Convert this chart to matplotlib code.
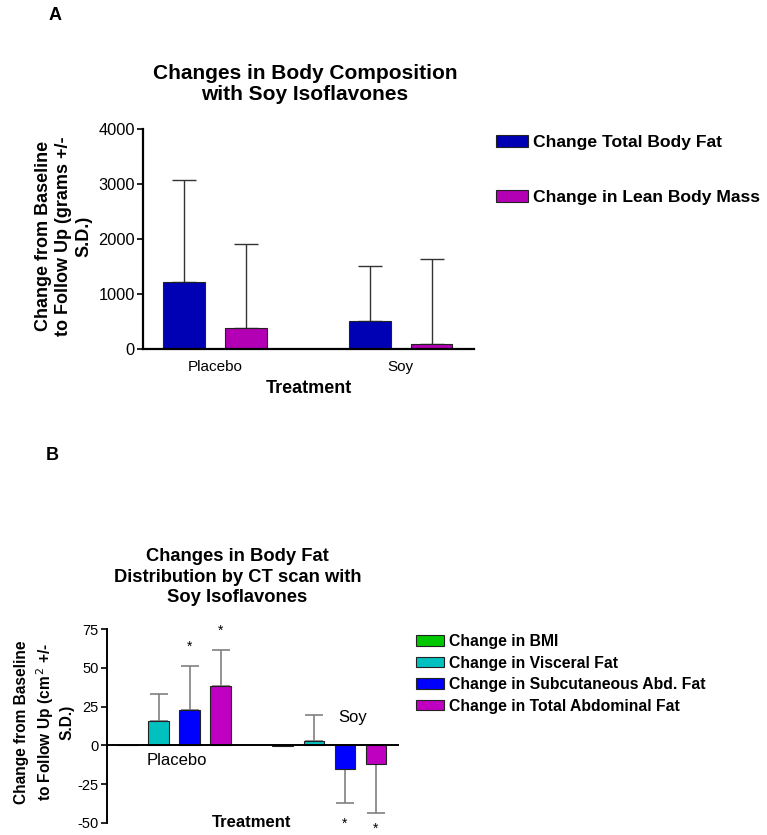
import matplotlib
matplotlib.use("Agg")
import matplotlib.pyplot as plt
import numpy as np

plt.rcParams['font.family'] = ['Liberation Sans', 'DejaVu Sans']

# ---------------- data ----------------
# Panel A
groups_a = ["Placebo", "Soy"]
series_a = ["Change Total Body Fat", "Change in Lean Body Mass"]
means_total_fat = [1224, 515]
sd_total_fat = [1843, 994]
means_lean = [388, 85]
sd_lean = [1527, 1551]
yticks_a = [0, 1000, 2000, 3000, 4000]

# Panel B
groups_b = ["Placebo", "Soy"]
series_b = ["Change in BMI", "Change in Visceral Fat",
            "Change in Subcutaneous Abd. Fat", "Change in Total Abdominal Fat"]
means_bmi = [0.5, -0.5]
sd_bmi = [0.0, 0.0]
means_visceral = [15.5, 2.8]
sd_visceral = [18.0, 16.6]
means_subcut = [22.7, -15.1]
sd_subcut = [28.7, 22.0]
means_totabd = [38.2, -11.9]
sd_totabd = [23.2, 31.7]
# significance stars: (group index, series index, y position)
star_group = [0, 0, 1, 1]
star_series = [2, 3, 2, 3]
star_y = [63.7, 74.0, -50.5, -53.8]
yticks_b = [-50, -25, 0, 25, 50, 75]

colors_a = ["#0000B4", "#B400B4"]
colors_b = ["#00C800", "#00C0C0", "#0000FF", "#C000C0"]

W, H = 767, 835
fig = plt.figure(figsize=(W / 100, H / 100), dpi=100)

def fx(px):
    return px / W

def fy(py):
    return 1 - py / H

# ---------------- Panel A ----------------
axA = fig.add_axes([fx(143), fy(349), fx(474 - 143), (349 - 128.7) / H])
xa = np.arange(len(groups_a))
bw_a = 0.226
off_a = 0.167
for i, (m, s, lab) in enumerate([(means_total_fat, sd_total_fat, series_a[0]),
                                  (means_lean, sd_lean, series_a[1])]):
    pos = xa + (-off_a if i == 0 else off_a)
    axA.bar(pos, m, width=bw_a, color=colors_a[i], edgecolor="#222222",
            linewidth=0.8, label=lab, zorder=2)
    axA.errorbar(pos, m, yerr=[np.zeros(len(s)), s], fmt='none',
                 ecolor="#333333", elinewidth=1.0, capsize=8.5, capthick=1.0, zorder=1)
axA.set_xlim(-0.388, 1.396)
axA.set_ylim(0, 4000)
axA.set_yticks(yticks_a)
axA.set_yticklabels([str(t) for t in yticks_a], fontsize=11.8)
axA.set_xticks(xa)
axA.set_xticklabels(groups_a, fontsize=11)
axA.tick_params(axis='x', length=0, pad=8)
axA.tick_params(axis='y', length=4, width=1.2, pad=2)
for sp in ["top", "right"]:
    axA.spines[sp].set_visible(False)
for sp in ["left", "bottom"]:
    axA.spines[sp].set_linewidth(1.6)
axA.set_xlabel("Treatment", fontsize=13, fontweight='bold', labelpad=4)

fig.text(fx(64), fy(236), "Change from Baseline\nto Follow Up (grams +/-\nS.D.)",
         rotation=90, ha='center', va='center', multialignment='center',
         fontsize=13, fontweight='bold', linespacing=1.25)
fig.text(fx(305), fy(84), "Changes in Body Composition\nwith Soy Isoflavones",
         ha='center', va='center', multialignment='center',
         fontsize=15, fontweight='bold', linespacing=1.15)
fig.text(fx(55), fy(16), "A", ha='center', va='center', fontsize=13, fontweight='bold')

legA = fig.legend(*axA.get_legend_handles_labels(), loc='upper left',
                  bbox_to_anchor=(fx(496), fy(135)), frameon=False,
                  prop={'weight': 'bold', 'size': 12.6},
                  handlelength=1.84, handleheight=0.69, handletextpad=0.3,
                  labelspacing=2.25, borderpad=0, borderaxespad=0)

# ---------------- Panel B ----------------
axB = fig.add_axes([fx(107), fy(822.7), fx(398 - 107), (822.7 - 629.3) / H])
xb = np.arange(len(groups_b))
bw_b = 0.135
offs_b = [-0.3, -0.1, 0.1, 0.3]
b_means = [means_bmi, means_visceral, means_subcut, means_totabd]
b_sds = [sd_bmi, sd_visceral, sd_subcut, sd_totabd]
for i in range(4):
    pos = xb + offs_b[i]
    m = np.array(b_means[i])
    s = np.array(b_sds[i])
    axB.bar(pos, m, width=bw_b, color=colors_b[i], edgecolor="#222222",
            linewidth=0.8, label=series_b[i], zorder=2)
    lower = np.where(m < 0, s, 0)
    upper = np.where(m >= 0, s, 0)
    if s.max() > 0:
        axB.errorbar(pos, m, yerr=[lower, upper], fmt='none', ecolor="#808080",
                     elinewidth=1.2, capsize=6.5, capthick=1.2, zorder=1)
for g, si, yv in zip(star_group, star_series, star_y):
    axB.text(xb[g] + offs_b[si], yv, "*", ha='center', va='center',
             fontsize=10, clip_on=False)
axB.set_xlim(-0.435, 1.442)
axB.set_ylim(-50, 75)
axB.set_yticks(yticks_b)
axB.set_yticklabels([str(t) for t in yticks_b], fontsize=10.5)
axB.set_xticks([])
axB.tick_params(axis='y', length=4, width=1.2, pad=2)
for sp in ["top", "right"]:
    axB.spines[sp].set_visible(False)
axB.spines["bottom"].set_position(('data', 0))
axB.spines["left"].set_linewidth(1.4)
axB.spines["bottom"].set_linewidth(1.4)
axB.text(0.016, -9.7, groups_b[0], ha='center', va='center', fontsize=12)
axB.text(1.148, 18.1, groups_b[1], ha='center', va='center', fontsize=12)
axB.text(0.498, -49.7, "Treatment", ha='center', va='center', fontsize=12,
         fontweight='bold', clip_on=False)

fig.text(fx(44), fy(722), "Change from Baseline\nto Follow Up (cm$^{\\,2}$ +/-\nS.D.)",
         rotation=90, ha='center', va='center', multialignment='center',
         fontsize=11.2, fontweight='bold', linespacing=1.3)
fig.text(fx(237.5), fy(577), "Changes in Body Fat\nDistribution by CT scan with\nSoy Isoflavones",
         ha='center', va='center', multialignment='center',
         fontsize=13.2, fontweight='bold', linespacing=1.3)
fig.text(fx(52), fy(456), "B", ha='center', va='center', fontsize=13, fontweight='bold')

legB = fig.legend(*axB.get_legend_handles_labels(), loc='upper left',
                  bbox_to_anchor=(fx(416), fy(634)), frameon=False,
                  prop={'weight': 'bold', 'size': 11.3},
                  handlelength=1.78, handleheight=0.64, handletextpad=0.3,
                  labelspacing=0.42, borderpad=0, borderaxespad=0)

fig.savefig("out.png", dpi=100)
